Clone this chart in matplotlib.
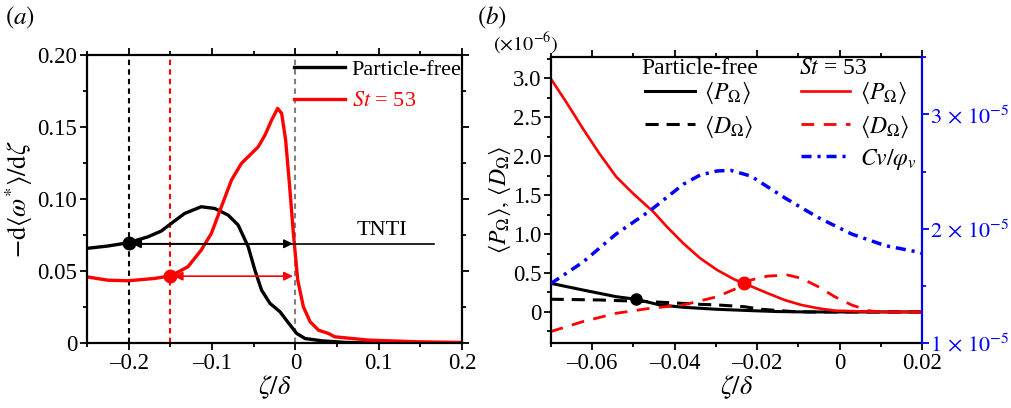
import matplotlib
matplotlib.use("Agg")
import matplotlib.pyplot as plt
from matplotlib.ticker import MultipleLocator, FuncFormatter
from matplotlib.lines import Line2D

plt.rcParams["font.family"] = ["Liberation Serif", "DejaVu Serif"]
plt.rcParams["mathtext.fontset"] = "stix"
plt.rcParams["font.size"] = 16

# ---- panel (a) data ----
za_free = [-0.25, -0.2253, -0.2004, -0.177, -0.161, -0.149, -0.133, -0.113, -0.0968, -0.0807,
           -0.0687, -0.0566, -0.0486, -0.0406, -0.0305, -0.0185, -0.0084, 0.0016, 0.0116,
           0.032, 0.06, 0.1, 0.2]
ga_free = [0.0658, 0.0674, 0.0697, 0.0738, 0.0778, 0.0831, 0.090, 0.0947, 0.0935, 0.0889,
           0.082, 0.0669, 0.0507, 0.0368, 0.0276, 0.0218, 0.0141, 0.0067, 0.0032,
           0.0016, 0.0005, 0.0, 0.0]
za_st = [-0.25, -0.2253, -0.2004, -0.169, -0.149, -0.129, -0.113, -0.1008, -0.0888, -0.0767,
         -0.0647, -0.0526, -0.0446, -0.0365, -0.0285, -0.0213, -0.0165, -0.0117, -0.0072,
         -0.0024, 0.0028, 0.0096, 0.0177, 0.0277, 0.0398, 0.047, 0.0876, 0.148, 0.2]
ga_st = [0.046, 0.0437, 0.0433, 0.0449, 0.0468, 0.053, 0.0646, 0.0762, 0.0947, 0.1132,
         0.1248, 0.1317, 0.1363, 0.1444, 0.1549, 0.163, 0.1595, 0.141, 0.1109,
         0.0762, 0.0438, 0.0252, 0.0148, 0.009, 0.0067, 0.0044, 0.0021, 0.0009, 0.0005]
tnti_free = -0.2
tnti_st = -0.15
dot_free_a = 0.0697
arrow_y_free = 0.069
arrow_y_st = 0.0465
tnti_line_end = 0.166

# ---- panel (b) data ----
zb_p_st = [-0.0701, -0.0664, -0.0623, -0.0583, -0.0542, -0.0501, -0.0452, -0.0419, -0.0379,
           -0.0338, -0.0297, -0.0256, -0.0232, -0.01745, -0.0134, -0.0093, -0.0052, -0.0012,
           0.007, 0.012, 0.02]
p_st = [2.996, 2.70, 2.355, 2.035, 1.735, 1.52, 1.286, 1.094, 0.88,
        0.688, 0.538, 0.419, 0.368, 0.24, 0.154, 0.09, 0.047, 0.017,
        0.004, 0.0, 0.0]
zb_p_free = [-0.0701, -0.0623, -0.0542, -0.0494, -0.0436, -0.0379, -0.0297, -0.0215, -0.015,
             -0.008, 0.02]
p_free = [0.368, 0.282, 0.196, 0.163, 0.09, 0.06, 0.034, 0.017, 0.005, 0.0, 0.0]
zb_d_free = [-0.0701, -0.0583, -0.046, -0.0338, -0.0297, -0.0232, -0.019, -0.011, -0.006, 0.02]
d_free = [0.163, 0.154, 0.132, 0.098, 0.09, 0.068, 0.034, 0.004, 0.0, 0.0]
zb_d_st = [-0.0701, -0.0623, -0.0542, -0.046, -0.0379, -0.0297, -0.024, -0.0215, -0.01745,
           -0.0126, -0.0093, -0.0052, -0.0012, 0.0029, 0.007, 0.0095, 0.02]
d_st = [-0.252, -0.124, -0.017, 0.047, 0.09, 0.196, 0.325, 0.41, 0.46,
        0.474, 0.432, 0.325, 0.196, 0.09, 0.017, 0.0, 0.0]
zb_cv = [-0.0701, -0.0623, -0.0542, -0.046, -0.0379, -0.0338, -0.0297, -0.0264, -0.0215,
         -0.0134, -0.0052, 0.0029, 0.0111, 0.0193, 0.02]
cv = [1.519e-5, 1.707e-5, 1.954e-5, 2.157e-5, 2.389e-5, 2.47e-5, 2.505e-5, 2.51e-5, 2.46e-5,
      2.272e-5, 2.098e-5, 1.954e-5, 1.852e-5, 1.794e-5, 1.785e-5]
dot_free = (-0.0494, 0.163)
dot_st = (-0.0232, 0.368)

fig = plt.figure(figsize=(10.12, 4.08), dpi=100)

# ================= (a) =================
ax1 = fig.add_axes([0.086, 0.159, 0.3706, 0.706])
ax1.axvline(tnti_free, color="black", ls=(0, (2.6, 2)), lw=1.5)
ax1.axvline(tnti_st, color="red", ls=(0, (2.6, 2)), lw=1.5)
ax1.axvline(0, color="gray", ls=(0, (2.6, 2)), lw=1.5)
l1, = ax1.plot(za_free, ga_free, color="black", lw=2.4)
l2, = ax1.plot(za_st, ga_st, color="red", lw=2.4)
ax1.plot([tnti_free, tnti_line_end], [arrow_y_free, arrow_y_free], color="black", lw=1.2)
ax1.annotate("", xy=(-0.003, arrow_y_free), xytext=(tnti_free + 0.004, arrow_y_free),
             arrowprops=dict(arrowstyle="<|-|>", color="black", lw=1.2, mutation_scale=13,
                             shrinkA=0, shrinkB=0))
ax1.annotate("", xy=(-0.003, arrow_y_st), xytext=(tnti_st + 0.004, arrow_y_st),
             arrowprops=dict(arrowstyle="<|-|>", color="red", lw=1.2, mutation_scale=13,
                             shrinkA=0, shrinkB=0))
ax1.plot([tnti_free], [dot_free_a], "o", color="black", ms=9)
ax1.plot([tnti_st], [arrow_y_st], "o", color="red", ms=9)
ax1.text(0.104, 0.0785, "TNTI", ha="center", va="center", fontsize=16)
ax1.set_xlim(-0.25, 0.2)
ax1.set_ylim(0, 0.2)
ax1.xaxis.set_major_locator(MultipleLocator(0.1))
ax1.xaxis.set_minor_locator(MultipleLocator(0.05))
ax1.yaxis.set_major_locator(MultipleLocator(0.05))
ax1.yaxis.set_minor_locator(MultipleLocator(0.025))
ax1.xaxis.set_major_formatter(FuncFormatter(lambda v, p: "0" if abs(v) < 1e-9 else f"{v:.1f}".replace("-", "\u2013")))
ax1.yaxis.set_major_formatter(FuncFormatter(lambda v, p: "0" if abs(v) < 1e-9 else f"{v:.2f}"))
ax1.tick_params(which="both", direction="out", top=True, right=True, width=1.3)
ax1.tick_params(which="major", length=5, labelsize=16.5, pad=2)
ax1.tick_params(which="minor", length=3)
for s in ax1.spines.values():
    s.set_linewidth(1.6)
ax1.set_xlabel(r"$\zeta/\delta$", fontsize=19, labelpad=0)
ax1.set_ylabel(r"$-\mathrm{d}\langle\omega^{*}\rangle/\mathrm{d}\zeta$", fontsize=19, labelpad=2)
leg1 = ax1.legend([l1, l2], ["Particle-free", r"$\it{St}$ = 53"], loc="upper left",
                  bbox_to_anchor=(294 / 1012, 0.855), bbox_transform=fig.transFigure,
                  frameon=False, fontsize=16, handlelength=2.3, handletextpad=0.3,
                  borderaxespad=0, borderpad=0, labelspacing=0.5)
leg1.get_texts()[1].set_color("red")
fig.text(0.005, 0.94, r"$(a)$", fontsize=18)

# ================= (b) =================
ax2 = fig.add_axes([0.5445, 0.159, 0.3666, 0.701])
h_pf, = ax2.plot(zb_p_free, p_free, color="black", lw=2.2)
h_df, = ax2.plot(zb_d_free, d_free, color="black", lw=2.2, ls=(0, (4.3, 2.6)))
h_ps, = ax2.plot(zb_p_st, p_st, color="red", lw=1.9)
h_ds, = ax2.plot(zb_d_st, d_st, color="red", lw=2.0, ls=(0, (4.6, 3.4)))
ax2.plot([dot_free[0]], [dot_free[1]], "o", color="black", ms=8)
ax2.plot([dot_st[0]], [dot_st[1]], "o", color="red", ms=9)
ax2.set_xlim(-0.07, 0.02)
ax2.set_ylim(-0.4, 3.27)
ax2.xaxis.set_major_locator(MultipleLocator(0.02))
ax2.xaxis.set_minor_locator(MultipleLocator(0.01))
ax2.yaxis.set_major_locator(MultipleLocator(0.5))
ax2.yaxis.set_minor_locator(MultipleLocator(0.25))
ax2.xaxis.set_major_formatter(FuncFormatter(lambda v, p: "0" if abs(v) < 1e-9 else f"{v:.2f}".replace("-", "\u2013")))
ax2.yaxis.set_major_formatter(FuncFormatter(lambda v, p: "0" if abs(v) < 1e-9 else f"{v:.1f}"))
ax2.tick_params(which="both", direction="out", top=True, width=1.3)
ax2.tick_params(which="major", length=5, labelsize=16.5, pad=2)
ax2.tick_params(which="minor", length=3)
for s in ax2.spines.values():
    s.set_linewidth(1.6)
ax2.spines["right"].set_visible(False)
ax2.set_xlabel(r"$\zeta/\delta$", fontsize=19, labelpad=0)
ax2.set_ylabel(r"$\langle P_{\Omega}\rangle,\,\langle D_{\Omega}\rangle$", fontsize=17, labelpad=0)
fig.text(526 / 1012, 1 - 44 / 408, r"$(\times10^{-6})$", ha="center", va="center", fontsize=14.5)

ax3 = ax2.twinx()
h_cv, = ax3.plot(zb_cv, cv, color="blue", lw=2.5, ls=(0, (2.9, 1.7, 0.9, 1.7)))
ax3.set_ylim(1e-5, 3.5e-5)
ax3.yaxis.set_major_locator(MultipleLocator(1e-5))
ax3.yaxis.set_minor_locator(MultipleLocator(0.5e-5))
ax3.yaxis.set_major_formatter(FuncFormatter(lambda v, p: r"$%d\,\times\,10^{-5}$" % round(v * 1e5)))
ax3.tick_params(which="both", direction="out", colors="blue", width=1.3)
ax3.tick_params(which="major", length=5, labelsize=16, pad=1)
ax3.tick_params(which="minor", length=3)
ax3.spines["right"].set_color("blue")
ax3.spines["right"].set_linewidth(1.6)
for k in ["left", "top", "bottom"]:
    ax3.spines[k].set_visible(False)

blank = Line2D([], [], color="none")
leg2 = ax3.legend([h_pf, h_df, blank, h_ps, h_ds, h_cv],
                  [r"$\langle P_{\Omega}\rangle$", r"$\langle D_{\Omega}\rangle$", "",
                   r"$\langle P_{\Omega}\rangle$", r"$\langle D_{\Omega}\rangle$", r"$Cv/\varphi_v$"],
                  ncol=2, loc="upper left", bbox_to_anchor=(645 / 1012, 1 - 80 / 408),
                  bbox_transform=fig.transFigure, frameon=False,
                  fontsize=17, handlelength=2.1, handletextpad=0.4, columnspacing=2.0,
                  labelspacing=0.3, borderpad=0, borderaxespad=0)
fig.text(700 / 1012, 1 - 68 / 408, "Particle-free", ha="center", va="center", fontsize=17)
fig.text(833 / 1012, 1 - 68 / 408, r"$\it{St}$ = 53", ha="center", va="center", fontsize=17)
fig.text(0.471, 0.94, r"$(b)$", fontsize=18)

fig.savefig("out.png", dpi=100)
